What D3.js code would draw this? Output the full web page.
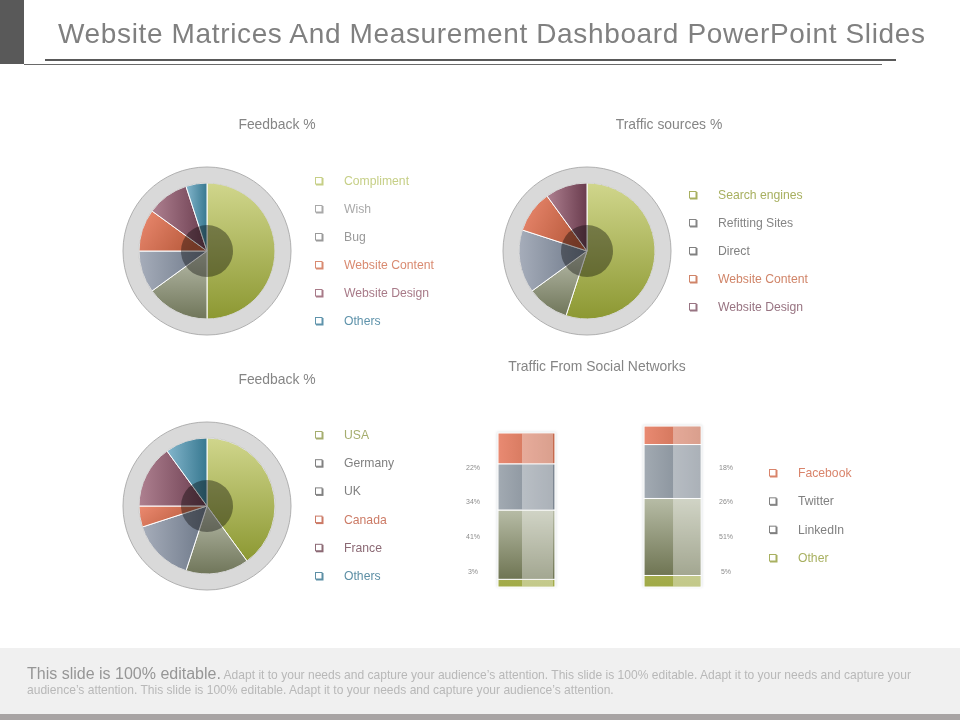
<!DOCTYPE html>
<html>
<head>
<meta charset="utf-8">
<script src="https://cdnjs.cloudflare.com/ajax/libs/d3/7.8.5/d3.min.js"></script>
<style>
  html, body { margin: 0; padding: 0; background: #fff; }
  svg { display: block; font-family: "Liberation Sans", Arial, sans-serif; }
</style>
</head>
<body>
<div id="chart"></div>
<script>
// chart data
var titleText = "Website Matrices And Measurement Dashboard PowerPoint Slides";

var feedbackLabels = ["Compliment", "Wish", "Bug", "Website Content", "Website Design", "Others"];
var feedbackValues = [50, 15, 10, 10, 10, 5];

var sourceLabels = ["Search engines", "Refitting Sites", "Direct", "Website Content", "Website Design"];
var sourceValues = [55, 10, 15, 10, 10];

var countryLabels = ["USA", "Germany", "UK", "Canada", "France", "Others"];
var countryValues = [40, 15, 15, 5, 15, 10];

var socialLabels = ["Facebook", "Twitter", "LinkedIn", "Other"];
var socialBars = ["left", "right"];
// bar heights as drawn (they do not follow the printed percentages)
var socialOther = [5, 7.5];
var socialLinkedin = [45, 50];
var socialTwitter = [30, 35];
var socialFacebook = [20, 12];
// printed next to the bars, top to bottom
var leftBarLabels = ["22%", "34%", "41%", "3%"];
var rightBarLabels = ["18%", "26%", "51%", "5%"];

var footLead = "This slide is 100% editable.";
var footLine1 = " Adapt it to your needs and capture your audience\u2019s attention. This slide is 100% editable. Adapt it to your needs and capture your";
var footLine2 = "audience\u2019s attention. This slide is 100% editable. Adapt it to your needs and capture your audience\u2019s attention.";

var width = 960;
var height = 720;

var svg = d3.select("#chart")
  .append("svg")
  .attr("width", width)
  .attr("height", height);

var defs = svg.append("defs");

// gradients for the slices, [id, x2, y2, from, to]
var gradients = [
  ["gGreen", 0, 1, "#d0d68c", "#8c9832"],
  ["gOlive", 0, 1, "#b9bdab", "#70765a"],
  ["gGrey", 1, 0, "#a6adba", "#6c7788"],
  ["gOrange", 1, 0.4, "#ec8a70", "#b85a3c"],
  ["gPlum", 1, 0, "#ae8090", "#6a3c4e"],
  ["gTeal", 1, 0, "#84b6cc", "#377890"],
  ["gBarOrange", 1, 0, "#e98a72", "#c4694d"],
  ["gBarGrey", 1, 0, "#a2aab2", "#7b8590"],
  ["gBarOlive", 0, 1, "#b7bca6", "#6f7553"],
  ["gBarGreen", 0, 1, "#a4ac4c", "#a0aa48"]
];

gradients.forEach(function(g) {
  var grad = defs.append("linearGradient")
    .attr("id", g[0])
    .attr("x1", 0).attr("y1", 0)
    .attr("x2", g[1]).attr("y2", g[2]);
  grad.append("stop").attr("offset", 0).attr("stop-color", g[3]);
  grad.append("stop").attr("offset", 1).attr("stop-color", g[4]);
});

var barShadow = defs.append("filter")
  .attr("id", "barShadow")
  .attr("x", "-15%").attr("y", "-5%")
  .attr("width", "130%").attr("height", "110%");
barShadow.append("feGaussianBlur").attr("stdDeviation", 1.5);

// header
svg.append("rect")
  .attr("x", 0).attr("y", 0)
  .attr("width", 24).attr("height", 64)
  .attr("fill", "#595959");

svg.append("text")
  .attr("x", 58).attr("y", 42.5)
  .attr("font-size", 28)
  .attr("textLength", 867)
  .attr("fill", "#808080")
  .text(titleText);

svg.append("rect")
  .attr("x", 45).attr("y", 59)
  .attr("width", 851).attr("height", 2)
  .attr("fill", "#595959");

svg.append("rect")
  .attr("x", 24).attr("y", 64)
  .attr("width", 858).attr("height", 1)
  .attr("fill", "#6a6a6a");

// footer
svg.append("rect")
  .attr("x", 0).attr("y", 648)
  .attr("width", width).attr("height", 66)
  .attr("fill", "#f0f0f0");

svg.append("rect")
  .attr("x", 0).attr("y", 714)
  .attr("width", width).attr("height", 6)
  .attr("fill", "#a8a4a4");

var foot1 = svg.append("text")
  .attr("x", 27).attr("y", 679)
  .attr("font-size", 12.05)
  .attr("fill", "#b8b8b8");

foot1.append("tspan")
  .attr("font-size", 16)
  .attr("fill", "#969696")
  .text(footLead);

foot1.append("tspan").text(footLine1);

svg.append("text")
  .attr("x", 27).attr("y", 694)
  .attr("font-size", 12.05)
  .attr("fill", "#b8b8b8")
  .text(footLine2);

// section titles
function sectionTitle(txt, x, y) {
  svg.append("text")
    .attr("x", x).attr("y", y)
    .attr("text-anchor", "middle")
    .attr("font-size", 13.9)
    .attr("fill", "#858585")
    .text(txt);
}

sectionTitle("Feedback %", 277, 129);
sectionTitle("Traffic sources %", 669, 129);
sectionTitle("Feedback %", 277, 384);
sectionTitle("Traffic From Social Networks", 597, 371);

// legend list, hollow square markers with a drop edge
function legend(labels, colors, markerX, textX, ys) {
  var y = d3.scalePoint().domain(labels).range(ys);
  var row = svg.append("g").selectAll("g")
    .data(labels)
    .enter()
    .append("g")
    .attr("transform", function(d) { return "translate(0," + y(d) + ")"; });

  row.append("rect")
    .attr("x", markerX - 3)
    .attr("y", -3)
    .attr("width", 7.5)
    .attr("height", 7.5)
    .attr("fill", function(d, i) { return colors[i]; });

  row.append("rect")
    .attr("x", markerX - 3.5)
    .attr("y", -3.5)
    .attr("width", 6.5)
    .attr("height", 6.5)
    .attr("fill", "#fff")
    .attr("stroke", function(d, i) { return colors[i]; })
    .attr("stroke-width", 1);

  row.append("text")
    .attr("x", textX)
    .attr("y", 4)
    .attr("font-size", 12.2)
    .attr("fill", function(d, i) { return colors[i]; })
    .text(function(d) { return d; });
}

// pie with grey ring and dark hub
var pie = d3.pie().sort(null);
var arc = d3.arc().innerRadius(0).outerRadius(68);

function drawPie(values, fills, cx, cy) {
  var g = svg.append("g")
    .attr("transform", "translate(" + cx + "," + cy + ")");

  g.append("circle")
    .attr("r", 84)
    .attr("fill", "#d9d9d9")
    .attr("stroke", "#b0b0b0")
    .attr("stroke-width", 1);

  g.selectAll(".slice")
    .data(pie(values))
    .enter()
    .append("path")
    .attr("class", "slice")
    .attr("d", arc)
    .attr("fill", function(d, i) { return "url(#" + fills[i] + ")"; })
    .attr("stroke", "#fff")
    .attr("stroke-width", 1);

  // thin dark rim over the slice ends
  g.append("circle")
    .attr("r", 68)
    .attr("fill", "none")
    .attr("stroke", "#555")
    .attr("stroke-opacity", 0.25)
    .attr("stroke-width", 1);

  g.append("circle")
    .attr("r", 26)
    .attr("fill", "#a0a0a0")
    .style("mix-blend-mode", "multiply");
}

var fillsSix = ["gGreen", "gOlive", "gGrey", "gOrange", "gPlum", "gTeal"];
var fillsFive = ["gGreen", "gOlive", "gGrey", "gOrange", "gPlum"];

drawPie(feedbackValues, fillsSix, 207, 251);
drawPie(sourceValues, fillsFive, 587, 251);
drawPie(countryValues, fillsSix, 207, 506);

legend(feedbackLabels, ["#c6cf86", "#a9a9a9", "#9a9a9a", "#d98a70", "#a87a88", "#5f93ab"], 319, 344, [181, 321]);
legend(sourceLabels, ["#a8b060", "#858585", "#808080", "#d08468", "#987482"], 693, 718, [195, 307]);
legend(countryLabels, ["#a5ad6e", "#808080", "#808080", "#cc7b66", "#8c6a75", "#5d8fa5"], 319, 344, [435, 576]);
legend(socialLabels, ["#d9846b", "#808080", "#808080", "#a8b060"], 773, 798, [473, 558]);

// stacked bars
var barKeys = ["other", "linkedin", "twitter", "facebook"];
var barFills = ["gBarGreen", "gBarOlive", "gBarGrey", "gBarOrange"];
var barRows = socialBars.map(function(b, i) {
  return {
    bar: b,
    other: socialOther[i],
    linkedin: socialLinkedin[i],
    twitter: socialTwitter[i],
    facebook: socialFacebook[i]
  };
});

var barX = d3.scaleBand()
  .domain(socialBars)
  .range([498, 701])
  .paddingInner(0.61)
  .paddingOuter(0);

var barY = d3.scaleLinear()
  .domain([0, 100])
  .range([587, 433]);

var stacked = d3.stack().keys(barKeys)(barRows);

var bars = svg.append("g");

// soft halo behind each bar
bars.selectAll(".halo")
  .data(barRows)
  .enter()
  .append("rect")
  .attr("class", "halo")
  .attr("x", function(d) { return barX(d.bar) - 1; })
  .attr("y", function(d) { return barY(d.other + d.linkedin + d.twitter + d.facebook) - 1; })
  .attr("width", barX.bandwidth() + 2)
  .attr("height", function(d) { return barY(0) - barY(d.other + d.linkedin + d.twitter + d.facebook) + 1; })
  .attr("fill", "#dde0e2")
  .attr("filter", "url(#barShadow)");

var layer = bars.selectAll(".layer")
  .data(stacked)
  .enter()
  .append("g")
  .attr("class", "layer")
  .attr("fill", function(d, i) { return "url(#" + barFills[i] + ")"; });

layer.selectAll("rect")
  .data(function(d) { return d; })
  .enter()
  .append("rect")
  .attr("x", function(d) { return barX(d.data.bar); })
  .attr("y", function(d) { return barY(d[1]); })
  .attr("width", barX.bandwidth())
  .attr("height", function(d) { return barY(d[0]) - barY(d[1]); })
  .attr("stroke", "#fff")
  .attr("stroke-width", 1);

// lighter sheen over the right part of each segment,
// the left bar keeps a darker strip on its right edge
layer.selectAll(".sheen")
  .data(function(d) { return d; })
  .enter()
  .append("rect")
  .attr("class", "sheen")
  .attr("x", function(d) { return barX(d.data.bar) + (d.data.bar === "left" ? 24 : 29); })
  .attr("y", function(d) { return barY(d[1]) + 0.5; })
  .attr("width", function(d) { return d.data.bar === "left" ? 31 : 27.5; })
  .attr("height", function(d) { return barY(d[0]) - barY(d[1]) - 1; })
  .attr("fill", "#fff")
  .attr("fill-opacity", 0.36);

// printed percentages
function barLabels(labels, x) {
  var y = d3.scalePoint().domain(d3.range(labels.length)).range([467, 571]);
  svg.append("g").selectAll("text")
    .data(labels)
    .enter()
    .append("text")
    .attr("x", x)
    .attr("y", function(d, i) { return y(i) + 2.5; })
    .attr("text-anchor", "middle")
    .attr("font-size", 7)
    .attr("fill", "#8c8c8c")
    .text(function(d) { return d; });
}

barLabels(leftBarLabels, 473);
barLabels(rightBarLabels, 726);
</script>
</body>
</html>
